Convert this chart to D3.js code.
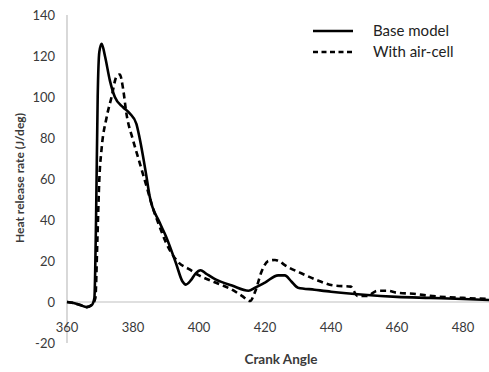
<!DOCTYPE html>
<html>
<head>
<meta charset="utf-8">
<script src="https://cdn.jsdelivr.net/npm/d3@7"></script>
<style>
  body { margin: 0; background: #fff; }
  svg { display: block; font-family: Lato, "Open Sans", sans-serif; }
</style>
</head>
<body>
<svg id="chart"></svg>
<script>
// Crank angle (deg) and heat release rate (J/deg)
const baseAngle = [360, 362, 364, 366, 367.5, 368.3, 368.8, 369.3, 369.8, 370.5, 371.5, 373, 374.5, 377, 379, 381, 382, 384, 385, 388, 390, 393, 395, 396, 397.5, 399, 400.5, 402, 405, 410, 415, 417, 420, 424, 426, 428, 430, 435, 440, 450, 460, 470, 480, 488]
const baseHrr = [0, -0.5, -1.5, -2.5, -1.5, 2, 40, 100, 122, 126, 120, 108, 100, 95, 92, 87, 80, 62, 52, 39, 32, 19, 10, 8.5, 10.5, 14, 15.5, 14, 11, 8, 5.5, 7, 9.5, 13, 13, 10, 7, 6, 5, 3.5, 2.5, 2, 1.5, 1]

const airAngle = [360, 362, 364, 366, 367.5, 368.6, 369.2, 369.8, 370.5, 372, 373.5, 375, 376, 377, 378, 380, 382, 384, 386, 388, 390, 392, 394, 397, 400, 405, 410, 413, 415.5, 417, 419, 421, 423, 427, 431, 436, 441, 446, 448, 451, 454, 457, 460, 465, 470, 480, 488]
const airHrr = [0, -0.5, -1.5, -2.5, -1.5, 2, 30, 60, 75, 90, 100, 110, 111, 104, 92, 79, 68, 57, 46, 37, 29, 23, 19, 16, 13, 9.5, 6, 3, 0.5, 5, 15, 20, 20.5, 17, 14, 10.5, 8, 7.5, 3, 3, 5.5, 5.5, 4.5, 4, 3, 2, 1.5]

const xTicks = [360, 380, 400, 420, 440, 460, 480]
const yTicks = [-20, 0, 20, 40, 60, 80, 100, 120, 140]

const series = [
  { name: 'Base model', angle: baseAngle, hrr: baseHrr, dash: null },
  { name: 'With air-cell', angle: airAngle, hrr: airHrr, dash: '6,4' }
]

const width = 489
const height = 372

const svg = d3.select('#chart')
  .attr('width', width)
  .attr('height', height)

const x = d3.scaleLinear().domain([360, 488]).range([67, 489.4])
const y = d3.scaleLinear().domain([-20, 140]).range([343, 15])

const textColor = '#3a3a3a'
const axisColor = '#bfbfbf'

// y axis line and labels
svg.append('line')
  .attr('x1', x(360)).attr('x2', x(360))
  .attr('y1', y(140)).attr('y2', y(-20))
  .attr('stroke', axisColor)
  .attr('stroke-width', 1.2)

svg.append('g')
  .selectAll('text')
  .data(yTicks)
  .enter().append('text')
  .attr('x', 55)
  .attr('y', d => y(d))
  .attr('dy', '0.35em')
  .attr('text-anchor', 'end')
  .attr('font-size', '13px')
  .attr('fill', textColor)
  .text(d => d)

// x axis drawn at zero
svg.append('line')
  .attr('x1', x(360)).attr('x2', width)
  .attr('y1', y(0)).attr('y2', y(0))
  .attr('stroke', axisColor)
  .attr('stroke-width', 1.2)

svg.append('g')
  .selectAll('text')
  .data(xTicks)
  .enter().append('text')
  .attr('x', d => x(d))
  .attr('y', y(0) + 30)
  .attr('text-anchor', 'middle')
  .attr('font-size', '13px')
  .attr('fill', textColor)
  .text(d => d)

// axis titles
svg.append('text')
  .attr('x', 281)
  .attr('y', 364)
  .attr('text-anchor', 'middle')
  .attr('font-size', '13.5px')
  .attr('font-weight', 'bold')
  .attr('fill', textColor)
  .text('Crank Angle')

svg.append('text')
  .attr('transform', 'translate(24,178) rotate(-90)')
  .attr('text-anchor', 'middle')
  .attr('font-size', '12px')
  .attr('font-weight', 'bold')
  .attr('fill', textColor)
  .text('Heat release rate (J/deg)')

// curves
const line = d3.line()
  .x(d => x(d[0]))
  .y(d => y(d[1]))
  .curve(d3.curveMonotoneX)

svg.append('g')
  .selectAll('path')
  .data(series)
  .enter().append('path')
  .attr('d', s => line(d3.zip(s.angle, s.hrr)))
  .attr('fill', 'none')
  .attr('stroke', '#000')
  .attr('stroke-width', 2.6)
  .attr('stroke-dasharray', s => s.dash)

// legend
const legend = svg.append('g')
  .selectAll('g')
  .data(series)
  .enter().append('g')
  .attr('transform', (d, i) => `translate(313,${31 + i * 21})`)

legend.append('line')
  .attr('x1', 0).attr('x2', 40)
  .attr('stroke', '#000')
  .attr('stroke-width', 2.6)
  .attr('stroke-dasharray', s => s.dash ? '5,3.5' : null)

legend.append('text')
  .attr('x', 60)
  .attr('dy', '0.35em')
  .attr('font-size', '15px')
  .attr('fill', '#222')
  .text(s => s.name)
</script>
</body>
</html>
